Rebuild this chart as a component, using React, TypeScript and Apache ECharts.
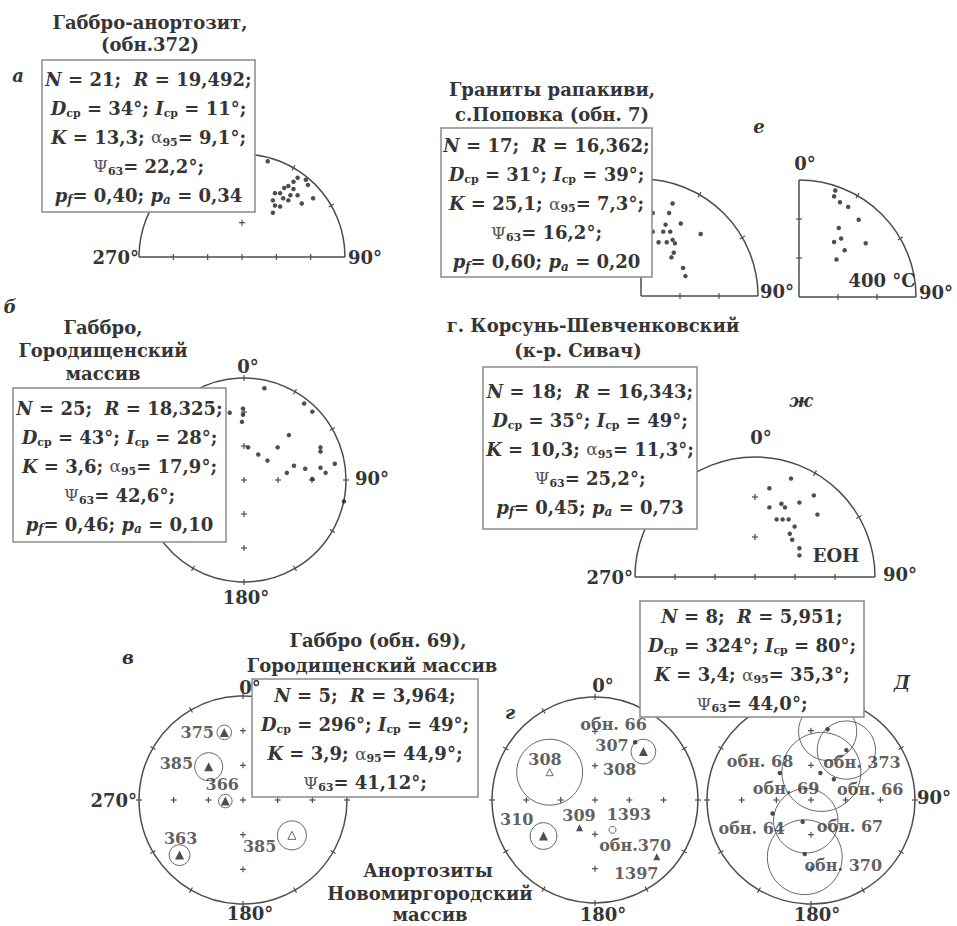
import React, { useEffect, useRef } from 'react';
import * as echarts from 'echarts';

const FONT = "'DejaVu Serif', 'Liberation Serif', serif";
const INK = '#353535';
const LINE = '#4d4d4d';

// ---------- data (normalised stereonet coordinates, x → east, y → north) ----------
const pointsA = [
  [0.25, 0.93], [0.54, 0.77], [0.62, 0.75], [0.50, 0.73], [0.64, 0.70], [0.45, 0.69],
  [0.41, 0.67], [0.32, 0.62], [0.37, 0.62], [0.47, 0.60], [0.54, 0.60], [0.30, 0.55],
  [0.40, 0.57], [0.45, 0.55], [0.69, 0.57], [0.58, 0.52], [0.32, 0.50], [0.37, 0.49],
  [0.30, 0.43], [0.50, 0.66],
];
const pointsE1 = [
  [0.27, 0.79], [0.10, 0.71], [0.24, 0.71], [0.34, 0.62], [0.21, 0.61], [0.10, 0.55],
  [0.19, 0.55], [0.25, 0.55], [0.51, 0.53], [0.15, 0.46], [0.22, 0.46], [0.27, 0.48],
  [0.29, 0.45], [0.28, 0.37], [0.26, 0.33], [0.36, 0.24], [0.38, 0.17],
];
const pointsE2 = [
  [0.31, 0.91], [0.30, 0.86], [0.35, 0.81], [0.42, 0.77], [0.51, 0.66], [0.34, 0.59],
  [0.36, 0.50], [0.30, 0.47], [0.57, 0.46], [0.39, 0.40], [0.32, 0.32],
];
const pointsB = [
  [0.20, 0.90], [0.59, 0.75], [0.67, 0.67], [-0.14, 0.66], [-0.01, 0.70], [-0.01, 0.64],
  [-0.02, 0.57], [0.44, 0.44], [0.04, 0.32], [0.14, 0.25], [0.33, 0.32], [0.23, 0.19],
  [0.75, 0.32], [0.75, 0.28], [0.89, 0.16], [0.49, 0.14], [0.60, 0.11], [0.75, 0.12],
  [0.42, 0.07], [0.80, 0.07], [0.67, 0.01], [0.98, -0.21],
];
const pointsZh = [
  [0.30, 0.82], [0.12, 0.74], [0.49, 0.68], [0.22, 0.61], [0.37, 0.62], [0.12, 0.58],
  [0.25, 0.58], [0.52, 0.52], [0.18, 0.48], [0.23, 0.48], [0.28, 0.48], [0.33, 0.42],
  [0.29, 0.36], [0.31, 0.31], [0.37, 0.24], [0.37, 0.18],
];
const dotsD = [
  [0.16, 0.68], [0.34, 0.48], [-0.30, 0.26], [0.09, 0.26], [0.22, 0.20],
  [-0.37, -0.13], [-0.08, -0.21], [-0.06, -0.52],
];

// site means: x, y, alpha95 (normalised radius), filled (1) / open (0)
const sitesV = [
  [-0.18, 0.65, 0.07, 1], [-0.33, 0.32, 0.135, 1], [-0.17, -0.01, 0.065, 1],
  [-0.61, -0.53, 0.10, 1], [0.47, -0.34, 0.14, 0],
];
const labelsV = [
  [-0.44, 0.65, '375'], [-0.64, 0.35, '385'], [-0.20, 0.15, '366'],
  [-0.60, -0.37, '363'], [0.16, -0.45, '385'],
];
const sitesG = [
  [0.47, 0.47, 0.12, 1], [-0.44, 0.27, 0.32, 0], [-0.50, -0.35, 0.13, 1],
  [-0.15, -0.27, 0, 1], [0.60, -0.55, 0, 1],
];
const openCirclesG = [[0.17, -0.29]];
const dotsG = [[0.39, 0.56]];
const labelsG = [
  [0.18, 0.73, 'обн. 66'], [0.165, 0.53, '307'], [-0.485, 0.39, '308'], [0.24, 0.30, '308'],
  [-0.76, -0.19, '310'], [-0.155, -0.15, '309'], [0.33, -0.14, '1393'],
  [0.39, -0.44, 'обн.370'], [0.40, -0.71, '1397'],
];
const circlesD = [
  [0.16, 0.66, 0.28], [0.34, 0.48, 0.28], [0.10, 0.27, 0.38], [-0.05, -0.20, 0.31], [-0.06, -0.55, 0.36],
];
const labelsD = [
  [-0.49, 0.37, 'обн. 68'], [0.49, 0.36, 'обн. 373'], [-0.24, 0.11, 'обн. 69'],
  [0.57, 0.10, 'обн. 66'], [-0.57, -0.27, 'обн. 64'], [0.375, -0.25, 'обн. 67'],
  [0.31, -0.625, 'обн. 370'],
];

// statistics: N, R, Dср, Iср, K, α95, Ψ63, pf, pa
const statsA = ['21', '19,492', '34', '11', '13,3', '9,1', '22,2', '0,40', '0,34'];
const statsE = ['17', '16,362', '31', '39', '25,1', '7,3', '16,2', '0,60', '0,20'];
const statsB = ['25', '18,325', '43', '28', '3,6', '17,9', '42,6', '0,46', '0,10'];
const statsZh = ['18', '16,343', '35', '49', '10,3', '11,3', '25,2', '0,45', '0,73'];
const statsV = ['5', '3,964', '296', '49', '3,9', '44,9', '41,12'];
const statsD = ['8', '5,951', '324', '80', '3,4', '35,3', '44,0'];

// ---------- layout ----------
type Panel = { cx: number; cy: number; r: number; kind: 'full' | 'half' | 'quarter' };
const PANELS: Panel[] = [
  { cx: 242, cy: 257, r: 103, kind: 'half' },    // 0 а
  { cx: 641, cy: 296, r: 117, kind: 'quarter' }, // 1 е (left)
  { cx: 799, cy: 297, r: 117, kind: 'quarter' }, // 2 е (400 °C)
  { cx: 244, cy: 480, r: 102, kind: 'full' },    // 3 б
  { cx: 755, cy: 577, r: 120, kind: 'half' },    // 4 ж
  { cx: 243, cy: 800, r: 104, kind: 'full' },    // 5 в
  { cx: 595, cy: 800, r: 103, kind: 'full' },    // 6 г
  { cx: 811, cy: 800, r: 104, kind: 'full' },    // 7 Д
];

const FS = 18;

function line(x1: number, y1: number, x2: number, y2: number, w = 1.4): any {
  return { type: 'line', silent: true, z: 1, shape: { x1, y1, x2, y2 }, style: { stroke: LINE, lineWidth: w } };
}

function frame(p: Panel): any[] {
  const { cx, cy, r, kind } = p;
  const els: any[] = [];
  const rad = (d: number) => (d * Math.PI) / 180;
  const tick = (deg: number) => {
    const s = Math.sin(rad(deg)), c = Math.cos(rad(deg));
    els.push(line(cx + (r - 3) * s, cy - (r - 3) * c, cx + (r + 3) * s, cy - (r + 3) * c, 1.2));
  };
  const cross = (fx: number, fy: number) => {
    const x = cx + fx * r, y = cy - fy * r;
    els.push(line(x - 3, y, x + 3, y, 1.2));
    els.push(line(x, y - 3, x, y + 3, 1.2));
  };
  const k = [1 / 3, 2 / 3];
  if (kind === 'full') {
    els.push({ type: 'circle', silent: true, z: 1, shape: { cx, cy, r }, style: { fill: 'none', stroke: LINE, lineWidth: 1.5 } });
    for (let d = 0; d < 360; d += 30) tick(d);
    cross(0, 0);
    k.forEach((f) => { cross(f, 0); cross(-f, 0); cross(0, f); cross(0, -f); });
  } else if (kind === 'half') {
    els.push({ type: 'arc', silent: true, z: 1, shape: { cx, cy, r, startAngle: Math.PI, endAngle: 2 * Math.PI, clockwise: true }, style: { fill: 'none', stroke: LINE, lineWidth: 1.5 } });
    els.push(line(cx - r, cy, cx + r, cy, 1.5));
    [300, 330, 30, 60].forEach(tick);
    [-2 / 3, -1 / 3, 0, 1 / 3, 2 / 3].forEach((f) => els.push(line(cx + f * r, cy - 3, cx + f * r, cy + 3, 1.2)));
    k.forEach((f) => cross(0, f));
  } else {
    els.push({ type: 'arc', silent: true, z: 1, shape: { cx, cy, r, startAngle: 1.5 * Math.PI, endAngle: 2 * Math.PI, clockwise: true }, style: { fill: 'none', stroke: LINE, lineWidth: 1.5 } });
    els.push(line(cx, cy, cx + r, cy, 1.5));
    els.push(line(cx, cy, cx, cy - r, 1.5));
    [30, 60].forEach(tick);
    k.forEach((f) => {
      els.push(line(cx + f * r, cy - 3, cx + f * r, cy + 3, 1.2));
      els.push(line(cx - 3, cy - f * r, cx + 3, cy - f * r, 1.2));
    });
  }
  return els;
}

function txt(x: number, y: number, text: string, o: any = {}): any {
  const align = o.align || 'center';
  return {
    type: 'text', x, y, z: o.z ?? 12, silent: true,
    style: {
      text, fill: INK, fontFamily: FONT, fontWeight: 'bold', fontSize: o.size ?? FS,
      fontStyle: o.italic ? 'italic' : 'normal',
      align, textAlign: align, verticalAlign: 'middle', textVerticalAlign: 'middle',
    },
  };
}

const RICH = {
  i: { fontFamily: FONT, fontSize: FS, fontWeight: 'bold', fontStyle: 'italic', fill: INK, lineHeight: 29 },
  s: { fontFamily: FONT, fontSize: 11, fontWeight: 'bold', fill: INK, lineHeight: 12, padding: [10, 0, 0, 0] },
  si: { fontFamily: FONT, fontSize: 12, fontWeight: 'bold', fontStyle: 'italic', fill: INK, lineHeight: 12, padding: [10, 0, 0, 0] },
  g: { fontFamily: FONT, fontSize: FS - 1, fontWeight: 'normal', fill: '#555', lineHeight: 29 },
};

function statsText(s: string[]): string {
  const lines = [
    `{i|N} = ${s[0]};  {i|R} = ${s[1]};`,
    `{i|D}{s|ср} = ${s[2]}°; {i|I}{s|ср} = ${s[3]}°;`,
    `{i|K} = ${s[4]}; {g|α}{s|95}= ${s[5]}°;`,
    `{g|Ψ}{s|63}= ${s[6]}°;`,
  ];
  if (s.length > 7) lines.push(`{i|p}{si|f}= ${s[7]}; {i|p}{si|a} = ${s[8]}`);
  return lines.join('\n');
}

function box(x1: number, y1: number, x2: number, y2: number, s: string[]): any[] {
  return [
    { type: 'rect', silent: true, z: 10, shape: { x: x1, y: y1, width: x2 - x1, height: y2 - y1 }, style: { fill: '#fff', stroke: '#8a8a8a', lineWidth: 1.5 } },
    {
      type: 'text', silent: true, z: 11, x: (x1 + x2) / 2, y: (y1 + y2) / 2 + 1,
      style: {
        text: statsText(s), rich: RICH, fill: INK, fontFamily: FONT, fontWeight: 'bold', fontSize: FS,
        lineHeight: 29, align: 'center', textAlign: 'center', verticalAlign: 'middle', textVerticalAlign: 'middle',
      },
    },
  ];
}

function dots(idx: number, data: number[][], size = 4.5): any {
  return {
    type: 'scatter', xAxisIndex: idx, yAxisIndex: idx, data, symbol: 'circle', symbolSize: size,
    itemStyle: { color: '#222' }, silent: true, z: 3,
  };
}

function circles(idx: number, data: number[][]): any {
  return {
    type: 'custom', xAxisIndex: idx, yAxisIndex: idx, silent: true, z: 3,
    data: data.filter((d) => d[2] > 0).map((d) => [d[0], d[1], d[2]]),
    renderItem: (params: any, api: any) => {
      const c = api.coord([api.value(0), api.value(1)]);
      const s = api.size([api.value(2), 0]);
      return { type: 'circle', shape: { cx: c[0], cy: c[1], r: s[0] }, style: { fill: 'none', stroke: '#666', lineWidth: 1 } };
    },
  };
}

function triangles(idx: number, data: number[][], filled: boolean, size: number): any {
  return {
    type: 'scatter', xAxisIndex: idx, yAxisIndex: idx, silent: true, z: 4,
    data: data.map((d) => [d[0], d[1]]), symbol: 'triangle', symbolSize: size,
    itemStyle: filled ? { color: '#222' } : { color: '#fff', borderColor: '#444', borderWidth: 1 },
  };
}

function labels(idx: number, data: any[][]): any {
  return {
    type: 'scatter', xAxisIndex: idx, yAxisIndex: idx, silent: true, z: 5, symbolSize: 1,
    itemStyle: { color: 'rgba(0,0,0,0)' },
    data: data.map((d) => ({ value: [d[0], d[1]], name: d[2] })),
    label: {
      show: true, position: 'inside', formatter: '{b}', color: INK,
      fontFamily: FONT, fontWeight: 'bold', fontSize: 16,
    },
  };
}

export default function App() {
  const ref = useRef<HTMLDivElement>(null);
  useEffect(() => {
    if (!ref.current) return;
    const chart = echarts.init(ref.current, undefined, { renderer: 'svg' });

    const graphic: any[] = [];
    PANELS.forEach((p) => graphic.push(...frame(p)));

    // boxes
    graphic.push(...box(42, 60, 255, 212, statsA));
    graphic.push(...box(441, 128, 652, 277, statsE));
    graphic.push(...box(13, 388, 226, 542, statsB));
    graphic.push(...box(483, 367, 697, 529, statsZh));
    graphic.push(...box(252, 679, 478, 797, statsV));
    graphic.push(...box(640, 601, 864, 717, statsD));

    // titles
    graphic.push(txt(150, 22, 'Габбро-анортозит,'), txt(150, 44, '(обн.372)'));
    graphic.push(txt(552, 89, 'Граниты рапакиви,'), txt(552, 114, 'с.Поповка (обн. 7)'));
    graphic.push(txt(103, 327, 'Габбро,'), txt(103, 350, 'Городищенский'), txt(103, 373, 'массив'));
    graphic.push(txt(593, 325, 'г. Корсунь-Шевченковский'), txt(578, 350, '(к-р. Сивач)'));
    graphic.push(txt(378, 640, 'Габбро (обн. 69),'), txt(372, 665, 'Городищенский массив'));
    graphic.push(txt(428, 870, 'Анортозиты'), txt(430, 893, 'Новомиргородский'), txt(430, 914, 'массив'));

    // panel letters
    graphic.push(txt(18, 75, 'а', { italic: true }), txt(759, 126, 'е', { italic: true }),
      txt(10, 306, 'б', { italic: true }), txt(801, 400, 'ж', { italic: true }),
      txt(128, 657, 'в', { italic: true }), txt(510, 712, 'г', { italic: true }),
      txt(902, 682, 'Д', { italic: true }));

    // axis labels
    graphic.push(
      txt(139, 257, '270°', { align: 'right' }), txt(348, 257, '90°', { align: 'left' }),
      txt(760, 291, '90°', { align: 'left' }), txt(805, 163, '0°'), txt(919, 292, '90°', { align: 'left' }),
      txt(882, 280, '400 °C'),
      txt(248, 366, '0°'), txt(355, 478, '90°', { align: 'left' }), txt(246, 597, '180°'),
      txt(761, 437, '0°'), txt(633, 577, '270°', { align: 'right' }), txt(883, 574, '90°', { align: 'left' }),
      txt(836, 555, 'ЕОН'),
      txt(250, 687, '0°'), txt(137, 800, '270°', { align: 'right' }), txt(250, 913, '180°'),
      txt(603, 685, '0°'), txt(603, 914, '180°'),
      txt(917, 797, '90°', { align: 'left' }), txt(817, 914, '180°'),
    );

    const series: any[] = [
      dots(0, pointsA), dots(1, pointsE1), dots(2, pointsE2), dots(3, pointsB), dots(4, pointsZh),
      circles(5, sitesV),
      triangles(5, sitesV.filter((s) => s[3] === 1), true, 9),
      triangles(5, sitesV.filter((s) => s[3] === 0), false, 8),
      labels(5, labelsV),
      circles(6, sitesG),
      triangles(6, sitesG.filter((s) => s[3] === 1 && s[2] > 0), true, 9),
      triangles(6, sitesG.filter((s) => s[3] === 1 && s[2] === 0), true, 7),
      triangles(6, sitesG.filter((s) => s[3] === 0), false, 7),
      {
        type: 'scatter', xAxisIndex: 6, yAxisIndex: 6, silent: true, z: 4, data: openCirclesG,
        symbol: 'circle', symbolSize: 7, itemStyle: { color: '#fff', borderColor: '#444', borderWidth: 1 },
      },
      dots(6, dotsG),
      labels(6, labelsG),
      circles(7, circlesD),
      dots(7, dotsD),
      labels(7, labelsD),
    ];

    chart.setOption({
      animation: false,
      backgroundColor: '#fff',
      grid: PANELS.map((p) => ({ left: p.cx - p.r, top: p.cy - p.r, width: 2 * p.r, height: 2 * p.r, show: false })),
      xAxis: PANELS.map((_, i) => ({ type: 'value', gridIndex: i, min: -1, max: 1, show: false })),
      yAxis: PANELS.map((_, i) => ({ type: 'value', gridIndex: i, min: -1, max: 1, show: false })),
      graphic,
      series,
    });
    return () => chart.dispose();
  }, []);
  return <div ref={ref} style={{ position: 'fixed', left: 0, top: 0, width: 957, height: 926, background: '#fff' }} />;
}
